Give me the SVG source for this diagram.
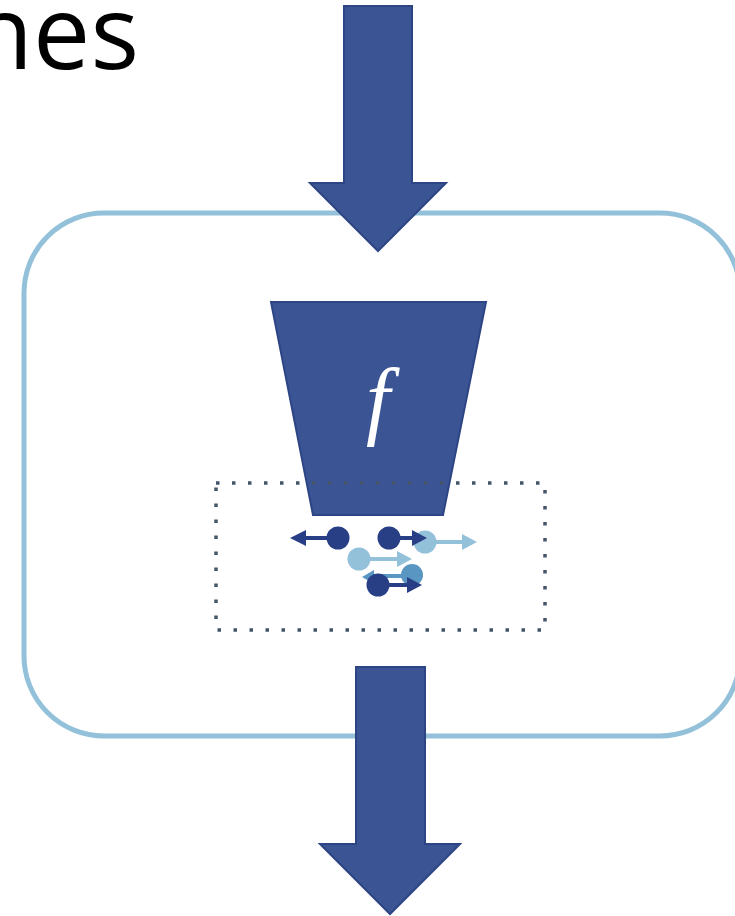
<svg xmlns="http://www.w3.org/2000/svg" width="735" height="916" viewBox="0 0 735 916">
<defs>
<style>
.blk{fill:#3b5493;stroke:#2e4585;stroke-width:2;stroke-linejoin:miter}
.dk{fill:#283f86}
.lt{fill:#93c1da}
.md{fill:#5a96c2}
.ldk{stroke:#283f86;stroke-width:4}
.llt{stroke:#93c1da;stroke-width:4}
.lmd{stroke:#5a96c2;stroke-width:4}
</style>
</defs>
<rect width="735" height="916" fill="#ffffff"/>
<text x="139" y="69" text-anchor="end" font-family="'Open Sans', 'Liberation Sans', sans-serif" font-size="102" fill="#000000">nes</text>
<g id="container">
<rect x="24" y="213" width="716" height="523" rx="80" ry="80" fill="none" stroke="#93c1da" stroke-width="5"/>
</g>
<g id="input-arrow">
<polygon class="blk" points="344,6 412,6 412,183 446,183 378,251 310,183 344,183"/>
</g>
<g id="function">
<polygon class="blk" points="271,302 486,302 443,515 313,515"/>
<text x="378" y="428" text-anchor="middle" font-family="'Liberation Serif', 'DejaVu Serif', serif" font-style="italic" font-size="86" fill="#ffffff">f</text>
</g>
<g id="sample-region">
<rect x="216" y="483" width="329" height="147" fill="none" stroke="#44546a" stroke-width="3.5" stroke-dasharray="3.5,12.5"/>
</g>
<g id="particles">
<line class="lmd" x1="412" y1="576" x2="372" y2="576"/>
<polygon class="md" points="362,577 374,570 374,584"/>
<circle class="md" cx="412" cy="575" r="11"/>
<circle class="dk" cx="338" cy="538" r="11.5"/>
<line class="ldk" x1="338" y1="538" x2="302" y2="538"/>
<polygon class="dk" points="290,538 306,530 306,546"/>
<circle class="lt" cx="425" cy="542" r="11.5"/>
<line class="llt" x1="425" y1="542" x2="464" y2="542"/>
<polygon class="lt" points="477,542 462,534 462,550"/>
<circle class="dk" cx="389" cy="538" r="11.5"/>
<line class="ldk" x1="389" y1="538" x2="414" y2="538"/>
<polygon class="dk" points="427,538 412,530 412,546"/>
<circle class="lt" cx="359" cy="559" r="11.5"/>
<line class="llt" x1="359" y1="559" x2="399" y2="559"/>
<polygon class="lt" points="412,559 397,551 397,567"/>
<circle class="dk" cx="378" cy="585" r="11.5"/>
<line class="ldk" x1="378" y1="585" x2="409" y2="585"/>
<polygon class="dk" points="422,585 407,577 407,593"/>
</g>
<g id="output-arrow">
<polygon class="blk" points="356,667 425,667 425,844 460,844 390,914 320,844 356,844"/>
</g>
</svg>
